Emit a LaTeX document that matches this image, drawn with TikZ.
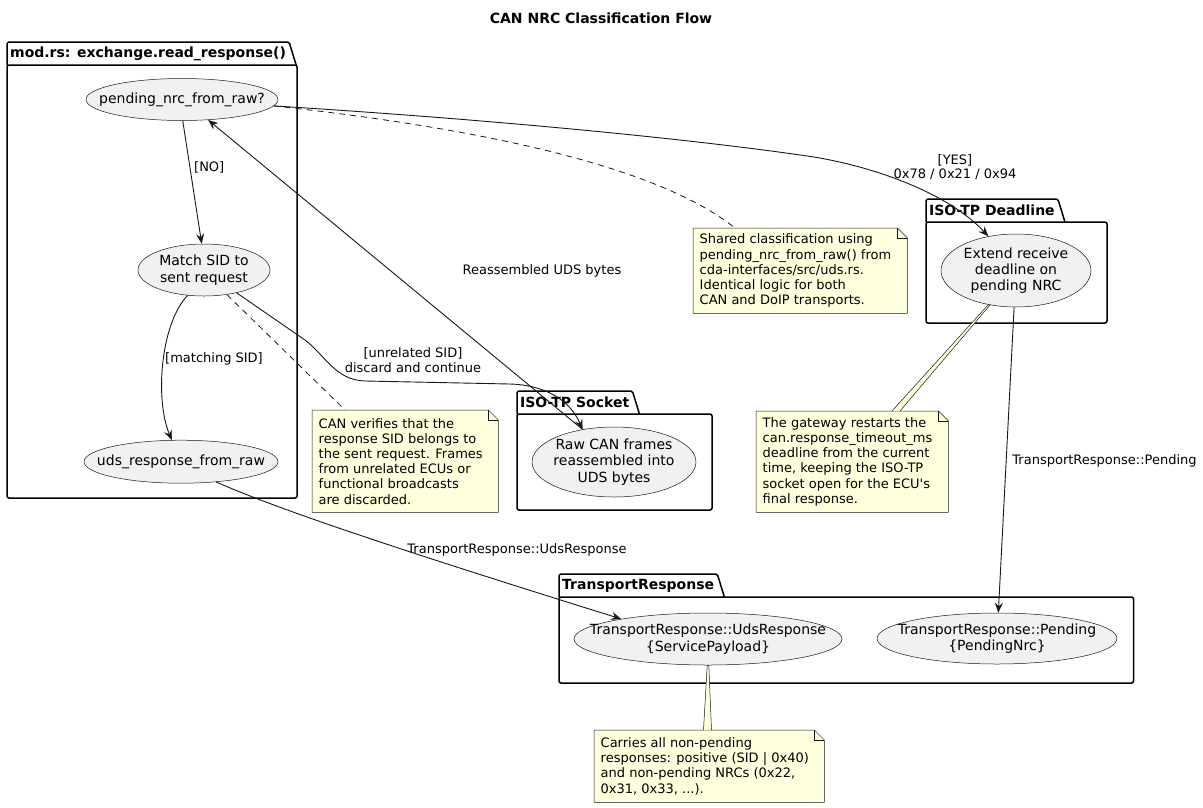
\documentclass[tikz,border=0pt]{standalone}
\usepackage{fontspec}
\setmainfont{DejaVu Sans}
\usetikzlibrary{shapes.geometric, arrows.meta, calc}
\definecolor{notefill}{HTML}{FEFFDD}
\definecolor{ucfill}{HTML}{F1F1F1}
\definecolor{ink}{HTML}{181818}
\newcommand\noteoutline[1]{%
  \path[fill=notefill, draw=ink, line width=0.5pt, line join=miter]
    (#1.north west) -- ([xshift=-10pt]#1.north east) -- ([yshift=-10pt]#1.north east)
    -- (#1.south east) -- (#1.south west) -- cycle;
  \draw[draw=ink, line width=0.5pt] ([xshift=-10pt]#1.north east) |- ([yshift=-10pt]#1.north east);
}
\begin{document}
\begin{tikzpicture}[x=1pt,y=-1pt,
  uc/.style={ellipse, draw=ink, fill=ucfill, line width=0.5pt, inner sep=0pt},
  uctext/.style={font=\fontsize{14}{16.3}\selectfont, align=center, inner sep=0pt, text=black},
  pkg/.style={draw=black, line width=1.5pt, line join=round},
  pkgtitle/.style={font=\bfseries\fontsize{14}{16}\selectfont, inner xsep=3pt, inner ysep=0pt, minimum height=22.5pt, anchor=south west},
  arr/.style={draw=ink, line width=0.9pt, -{Stealth[length=10pt,width=8pt,inset=3.5pt]}},
  dashlink/.style={draw=ink, line width=0.8pt, dash pattern=on 6pt off 5pt},
  lbl/.style={font=\fontsize{13}{14.5}\selectfont, align=center, inner sep=0pt},
  notebox/.style={draw=none, fill=none, anchor=north west, inner sep=0pt},
  notetext/.style={font=\fontsize{13}{15.2}\selectfont, align=left, inner sep=0pt, anchor=west},
  notelink/.style={fill=notefill, draw=ink, line width=0.5pt}
]
\fill[white] (0,0) rectangle (1203,807);
\useasboundingbox (0,0) rectangle (1203,807);

% title
\node[font=\bfseries\fontsize{14}{16}\selectfont] (title) at (601,18) {CAN NRC Classification Flow};

% packages
\draw[pkg, rounded corners=2pt] (7,65) rectangle (297,498);
\node[pkgtitle] (tmod) at (7,65) {mod.rs: exchange.read\_response()};
\draw[pkg, rounded corners=1.5pt] (tmod.south west) -- (tmod.north west) -- (tmod.north east) -- ([xshift=7pt]tmod.south east);

\draw[pkg, rounded corners=2pt] (517,414) rectangle (712,510);
\node[pkgtitle] (tsock) at (517,414) {ISO-TP Socket};
\draw[pkg, rounded corners=1.5pt] (tsock.south west) -- (tsock.north west) -- (tsock.north east) -- ([xshift=7pt]tsock.south east);

\draw[pkg, rounded corners=2pt] (926,222) rectangle (1107,323);
\node[pkgtitle] (tdead) at (926,222) {ISO-TP Deadline};
\draw[pkg, rounded corners=1.5pt] (tdead.south west) -- (tdead.north west) -- (tdead.north east) -- ([xshift=7pt]tdead.south east);

\draw[pkg, rounded corners=2pt] (559,597) rectangle (1133.5,683);
\node[pkgtitle] (ttr) at (559,597) {TransportResponse};
\draw[pkg, rounded corners=1.5pt] (ttr.south west) -- (ttr.north west) -- (ttr.north east) -- ([xshift=7pt]ttr.south east);

% use cases
\node[uc, minimum width=192pt, minimum height=42pt, label={[uctext]center:{pending\_nrc\_from\_raw?}}] (pend) at (182,99.5) {};
\node[uc, minimum width=132pt, minimum height=52pt, label={[uctext]center:{Match SID to\\sent request}}] (match) at (204,270) {};
\node[uc, minimum width=194pt, minimum height=43pt, label={[uctext]center:{uds\_response\_from\_raw}}] (uds) at (181,461.7) {};
\node[uc, minimum width=164pt, minimum height=70pt, label={[uctext]center:{Raw CAN frames\\reassembled into\\UDS bytes}}] (raw) at (614,462) {};
\node[uc, minimum width=150pt, minimum height=73pt, label={[uctext]center:{Extend receive\\deadline on\\pending NRC}}] (ext) at (1016,270.5) {};
\node[uc, minimum width=268pt, minimum height=52pt, label={[uctext]center:{TransportResponse::UdsResponse\\\{ServicePayload\}}}] (tru) at (708,639) {};
\node[uc, minimum width=240pt, minimum height=51pt, label={[uctext]center:{TransportResponse::Pending\\\{PendingNrc\}}}] (trp) at (997,638.5) {};

% connectors
\draw[arr] (pend.272) -- (match.95);
\draw[arr] (match.237) .. controls (160,325) and (155,400) .. (uds.113);
\draw[arr] (match.325) -- (305,340) .. controls (325,355) and (335,380) .. (365,381) -- (510,384) .. controls (545,385) and (570,400) .. (raw.134);
\draw[arr] (raw.134) -- (pend.322);
\draw[arr] (pend.356) .. controls (500,120) and (700,140) .. (814,157) .. controls (880,168) and (950,195) .. (ext.129);
\draw[arr] (ext) -- (trp);
\draw[arr] (uds.330) .. controls (280,510) and (400,550) .. (tru.167);

% notes
\node[notebox, minimum width=214pt, minimum height=85pt] (nshared) at (693,228) {};
\noteoutline{nshared}
\node[notetext] (nsharedtxt) at ([xshift=6.5pt]nshared.west) {Shared classification using\\pending\_nrc\_from\_raw() from\\cda-interfaces/src/uds.rs.\\Identical logic for both\\CAN and DoIP transports.};

\node[notebox, minimum width=192pt, minimum height=101pt] (ngw) at (756,411) {};
\noteoutline{ngw}
\node[notetext] (ngwtxt) at ([xshift=6.5pt]ngw.west) {The gateway restarts the\\can.response\_timeout\_ms\\deadline from the current\\time, keeping the ISO-TP\\socket open for the ECU\textquotesingle s\\final response.};

\node[notebox, minimum width=186pt, minimum height=102pt] (ncan) at (312,410) {};
\noteoutline{ncan}
\node[notetext] (ncantxt) at ([xshift=6.5pt]ncan.west) {CAN verifies that the\\response SID belongs to\\the sent request. Frames\\from unrelated ECUs or\\functional broadcasts\\are discarded.};

\node[notebox, minimum width=230pt, minimum height=72pt] (ncar) at (594,730) {};
\noteoutline{ncar}
\node[notetext] (ncartxt) at ([xshift=6.5pt]ncar.west) {Carries all non-pending\\responses: positive (SID | 0x40)\\and non-pending NRCs (0x22,\\0x31, 0x33, ...).};

% note links
\draw[dashlink] (pend.356) .. controls (450,125) and (650,160) .. ([xshift=42pt]nshared.north west);
\draw[dashlink] (match.313) -- ([xshift=33pt]ncan.north west);
\path[notelink] ([xshift=109.5pt]ncar.north west) -- ([xshift=-0.8pt]tru.south) -- ([xshift=0.8pt]tru.south) -- ([xshift=117.5pt]ncar.north west);
\path[notelink] ([xshift=136pt]ngw.north west) -- ([xshift=-1pt]ext.232) -- ([xshift=1pt]ext.232) -- ([xshift=144pt]ngw.north west);

% edge labels
\node[lbl, anchor=west] (lno) at (194,167) {[NO]};
\node[lbl] (lmatch) at (214,359) {[matching SID]};
\node[lbl] (lunrel) at (413,360) {[unrelated SID]\\discard and continue};
\node[lbl] (lreas) at (542,271) {Reassembled UDS bytes};
\node[lbl] (lyes) at (955,167) {[YES]\\0x78 / 0x21 / 0x94};
\node[lbl] (lpend) at (1104.5,461) {TransportResponse::Pending};
\node[lbl] (luds) at (517,550) {TransportResponse::UdsResponse};
\end{tikzpicture}
\end{document}
